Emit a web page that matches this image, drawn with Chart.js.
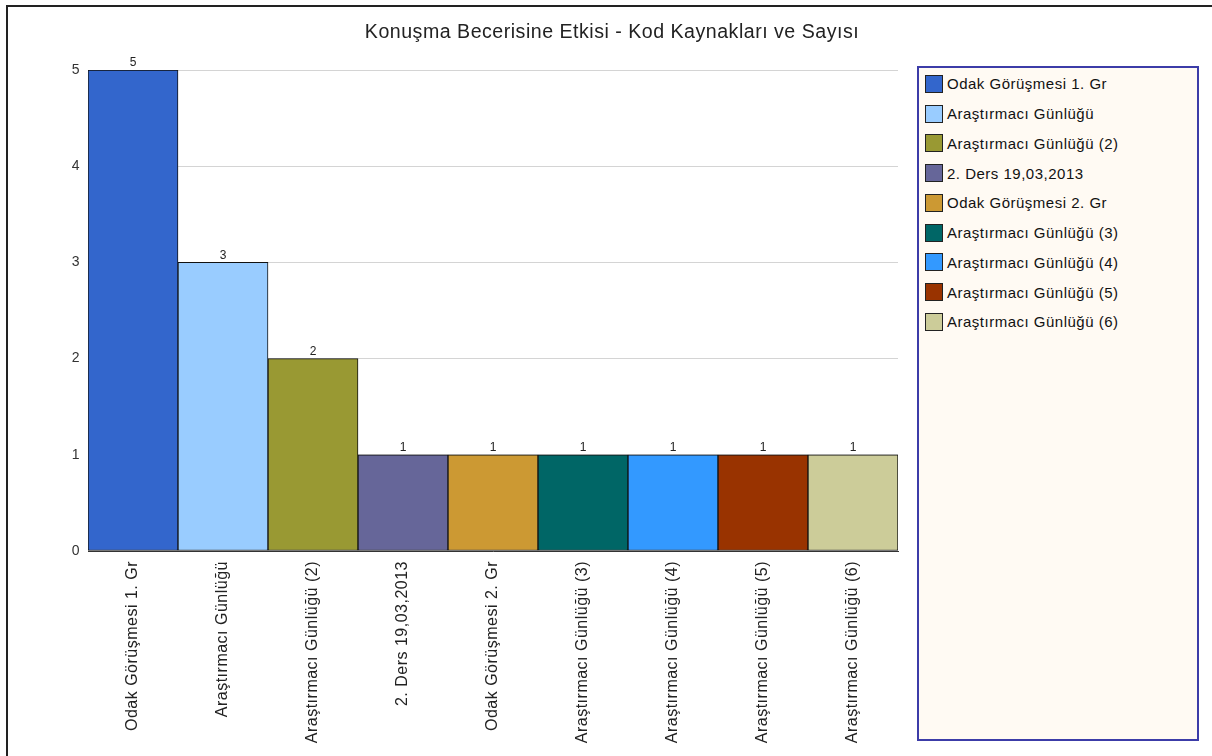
<!DOCTYPE html>
<html>
<head>
<meta charset="utf-8">
<script src="https://cdn.jsdelivr.net/npm/chart.js@4.4.1/dist/chart.umd.min.js"></script>
<style>
  html, body { margin: 0; padding: 0; background: #fff; }
  #page { position: relative; width: 1212px; height: 756px; overflow: hidden; }
  #frame { position: absolute; left: 6px; top: 5px; width: 1212px; height: 800px; border: 2px solid #222; box-sizing: border-box; }
  #chart { position: absolute; left: 0; top: 0; }
  #legend { position: absolute; left: 917px; top: 66px; width: 282px; height: 675px; box-sizing: border-box;
            border: 2px solid #3c3ca8; background: #fffaf3; padding-top: 1px;
            font-family: "Liberation Sans", Arial, sans-serif; font-size: 15px; letter-spacing: 0.5px; color: #111; }
  .item { height: 29.75px; display: flex; align-items: center; padding-left: 6px; }
  .box { width: 16px; height: 16px; border: 1.5px solid #222; margin-right: 4px; flex: none; }
</style>
</head>
<body>
<div id="page">
  <div id="frame"></div>
  <canvas id="chart" width="1212" height="756"></canvas>
  <div id="legend"></div>
</div>
<script>
var categories = [
    'Odak Görüşmesi 1. Gr',
    'Araştırmacı Günlüğü',
    'Araştırmacı Günlüğü (2)',
    '2. Ders 19,03,2013',
    'Odak Görüşmesi 2. Gr',
    'Araştırmacı Günlüğü (3)',
    'Araştırmacı Günlüğü (4)',
    'Araştırmacı Günlüğü (5)',
    'Araştırmacı Günlüğü (6)'
];
var counts = [5, 3, 2, 1, 1, 1, 1, 1, 1];
var colors = ['#3366cc', '#99ccff', '#999933', '#666699', '#cc9933', '#006666', '#3399ff', '#993300', '#cccc99'];
var yTicks = [0, 1, 2, 3, 4, 5];

var font = '"Liberation Sans", Arial, sans-serif';

// legend box on the right
var legend = document.getElementById('legend');
categories.forEach(function(name, i) {
    var row = document.createElement('div');
    row.className = 'item';
    var box = document.createElement('span');
    box.className = 'box';
    box.style.background = colors[i];
    row.appendChild(box);
    row.appendChild(document.createTextNode(name));
    legend.appendChild(row);
});

// the original text is a bit wider than Liberation Sans, add some spacing
var spacing = {
    id: 'spacing',
    beforeLayout: function(chart) { chart.ctx.letterSpacing = '0.5px'; },
    beforeDraw: function(chart) { chart.ctx.letterSpacing = '0.5px'; }
};

// value on top of each bar
var barValues = {
    id: 'barValues',
    afterDatasetsDraw: function(chart) {
        var ctx = chart.ctx;
        var meta = chart.getDatasetMeta(0);
        ctx.save();
        ctx.letterSpacing = '0px';
        ctx.font = '12px ' + font;
        ctx.fillStyle = '#222';
        ctx.textAlign = 'center';
        ctx.textBaseline = 'bottom';
        meta.data.forEach(function(bar, i) {
            ctx.fillText(counts[i], bar.x, bar.y - 1);
        });
        ctx.restore();
    }
};

new Chart(document.getElementById('chart'), {
    type: 'bar',
    data: {
        labels: categories,
        datasets: [{
            label: 'Sayı',
            data: counts,
            backgroundColor: colors,
            borderColor: '#111',
            borderWidth: 1,
            borderSkipped: false,
            categoryPercentage: 1,
            barPercentage: 1
        }]
    },
    options: {
        responsive: false,
        animation: false,
        layout: { padding: { left: 12, right: 0, top: 0, bottom: 0 } },
        plugins: {
            legend: { display: false },
            tooltip: { enabled: false },
            title: {
                display: true,
                text: 'Konuşma Becerisine Etkisi - Kod Kaynakları ve Sayısı',
                color: '#222',
                font: { family: font, size: 19.6, weight: 'normal' },
                padding: { top: 21, bottom: 25.5 }
            }
        },
        scales: {
            x: {
                grid: { display: false },
                border: { color: '#333', width: 1 },
                ticks: {
                    color: '#222',
                    font: { family: font, size: 16 },
                    minRotation: 90,
                    maxRotation: 90,
                    padding: 2,
                    autoSkip: false
                },
                afterFit: function(scale) { scale.height = 205; }
            },
            y: {
                min: 0,
                max: 5,
                grid: { color: '#d4d4d4', drawTicks: false },
                border: { display: false },
                afterBuildTicks: function(scale) {
                    scale.ticks = yTicks.map(function(v) { return { value: v }; });
                },
                ticks: {
                    color: '#333',
                    font: { family: font, size: 14 },
                    padding: 8
                },
                afterFit: function(scale) { scale.width = 76; }
            },
            room: {
                type: 'linear',
                position: 'right',
                display: true,
                grid: { display: false },
                border: { display: false },
                ticks: { display: false },
                afterFit: function(scale) { scale.width = 314; }
            }
        }
    },
    plugins: [spacing, barValues]
});
</script>
</body>
</html>
